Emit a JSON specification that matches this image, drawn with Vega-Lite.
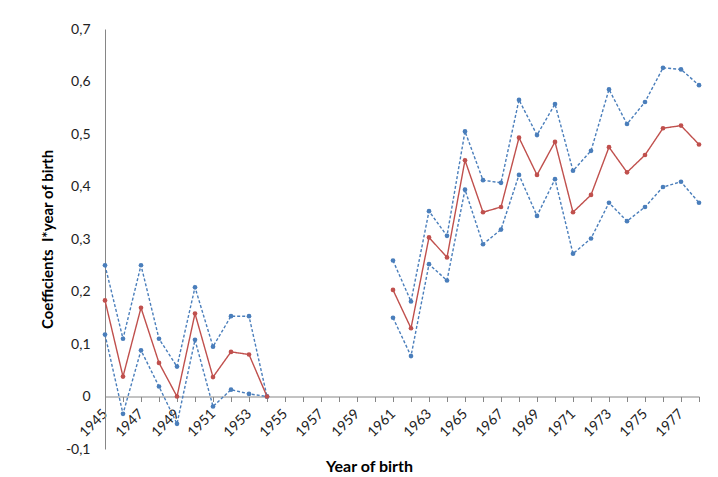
{
  "$schema": "https://vega.github.io/schema/vega-lite/v6.json",
  "autosize": "none",
  "width": 594,
  "height": 420,
  "padding": {"left": 105, "top": 29, "right": 19, "bottom": 28},
  "background": "white",
  "config": {
    "view": {"stroke": null},
    "font": "Lato",
    "axis": {"grid": false, "domainColor": "#868686", "tickColor": "#868686", "labelColor": "#222222", "titleColor": "#000000"}
  },
  "data": {
    "values": [
      {"year": 1945, "lo": 0.118, "est": 0.183, "hi": 0.25, "period": "a"},
      {"year": 1946, "lo": -0.033, "est": 0.038, "hi": 0.11, "period": "a"},
      {"year": 1947, "lo": 0.088, "est": 0.169, "hi": 0.25, "period": "a"},
      {"year": 1948, "lo": 0.019, "est": 0.064, "hi": 0.11, "period": "a"},
      {"year": 1949, "lo": -0.052, "est": 0.0, "hi": 0.057, "period": "a"},
      {"year": 1950, "lo": 0.108, "est": 0.158, "hi": 0.208, "period": "a"},
      {"year": 1951, "lo": -0.019, "est": 0.037, "hi": 0.095, "period": "a"},
      {"year": 1952, "lo": 0.013, "est": 0.085, "hi": 0.153, "period": "a"},
      {"year": 1953, "lo": 0.005, "est": 0.08, "hi": 0.153, "period": "a"},
      {"year": 1954, "lo": 0.0, "est": 0.0, "hi": 0.0, "period": "a"},
      {"year": 1961, "lo": 0.15, "est": 0.203, "hi": 0.259, "period": "b"},
      {"year": 1962, "lo": 0.077, "est": 0.13, "hi": 0.181, "period": "b"},
      {"year": 1963, "lo": 0.252, "est": 0.303, "hi": 0.353, "period": "b"},
      {"year": 1964, "lo": 0.221, "est": 0.265, "hi": 0.306, "period": "b"},
      {"year": 1965, "lo": 0.394, "est": 0.45, "hi": 0.505, "period": "b"},
      {"year": 1966, "lo": 0.29, "est": 0.351, "hi": 0.412, "period": "b"},
      {"year": 1967, "lo": 0.318, "est": 0.361, "hi": 0.407, "period": "b"},
      {"year": 1968, "lo": 0.422, "est": 0.493, "hi": 0.565, "period": "b"},
      {"year": 1969, "lo": 0.344, "est": 0.422, "hi": 0.498, "period": "b"},
      {"year": 1970, "lo": 0.414, "est": 0.485, "hi": 0.557, "period": "b"},
      {"year": 1971, "lo": 0.272, "est": 0.351, "hi": 0.43, "period": "b"},
      {"year": 1972, "lo": 0.301, "est": 0.384, "hi": 0.468, "period": "b"},
      {"year": 1973, "lo": 0.369, "est": 0.475, "hi": 0.585, "period": "b"},
      {"year": 1974, "lo": 0.334, "est": 0.427, "hi": 0.519, "period": "b"},
      {"year": 1975, "lo": 0.361, "est": 0.46, "hi": 0.561, "period": "b"},
      {"year": 1976, "lo": 0.399, "est": 0.511, "hi": 0.626, "period": "b"},
      {"year": 1977, "lo": 0.409, "est": 0.516, "hi": 0.623, "period": "b"},
      {"year": 1978, "lo": 0.369, "est": 0.48, "hi": 0.593, "period": "b"}
    ]
  },
  "transform": [
    {"fold": ["hi", "lo", "est"], "as": ["series", "value"]}
  ],
  "encoding": {
    "x": {
      "field": "year",
      "type": "quantitative",
      "scale": {"domain": [1945, 1978], "nice": false, "zero": false},
      "axis": {
        "title": "Year of birth",
        "titleFontSize": 16,
        "titleFontWeight": "bold",
        "titleX": 264,
        "titleY": 70,
        "titleAlign": "center",
        "titleBaseline": "middle",
        "offset": -52.5,
        "values": [1945,1946,1947,1948,1949,1950,1951,1952,1953,1954,1955,1956,1957,1958,1959,1960,1961,1962,1963,1964,1965,1966,1967,1968,1969,1970,1971,1972,1973,1974,1975,1976,1977,1978],
        "labelExpr": "datum.value % 2 == 1 && datum.value < 1978 ? format(datum.value, 'd') : ''",
        "labelAngle": -45,
        "labelAlign": "right",
        "labelBaseline": "middle",
        "labelFontSize": 14,
        "labelPadding": 10,
        "labelOverlap": false,
        "labelFlush": false,
        "tickSize": 5
      }
    },
    "y": {
      "field": "value",
      "type": "quantitative",
      "scale": {"domain": [-0.1, 0.7], "nice": false, "zero": false},
      "axis": {
        "title": "Coefficients\u00a0\u00a0I*year of birth",
        "titleFontSize": 15,
        "titleFontWeight": "bold",
        "titleAngle": -90,
        "titleX": -58,
        "titleY": 210,
        "titleAlign": "center",
        "titleBaseline": "middle",
        "values": [-0.1, 0, 0.1, 0.2, 0.3, 0.4, 0.5, 0.6, 0.7],
        "labelExpr": "datum.value == 0 ? '0' : replace(replace(format(datum.value, '.1f'), '.', ','), '\u2212', '-')",
        "labelFontSize": 14,
        "labelPadding": 15,
        "ticks": false,
        "labelFlush": false
      }
    },
    "color": {
      "field": "series",
      "type": "nominal",
      "scale": {"domain": ["hi", "lo", "est"], "range": ["#4a7ebb", "#4a7ebb", "#c0504d"]},
      "legend": null
    },
    "detail": {"field": "period", "type": "nominal"}
  },
  "layer": [
    {
      "mark": {"type": "line", "strokeWidth": 1.4},
      "encoding": {
        "strokeDash": {
          "field": "series",
          "type": "nominal",
          "scale": {"domain": ["hi", "lo", "est"], "range": [[3, 2], [3, 2], [1, 0]]},
          "legend": null
        }
      }
    },
    {
      "mark": {"type": "point", "filled": true, "size": 22, "opacity": 1}
    }
  ]
}
